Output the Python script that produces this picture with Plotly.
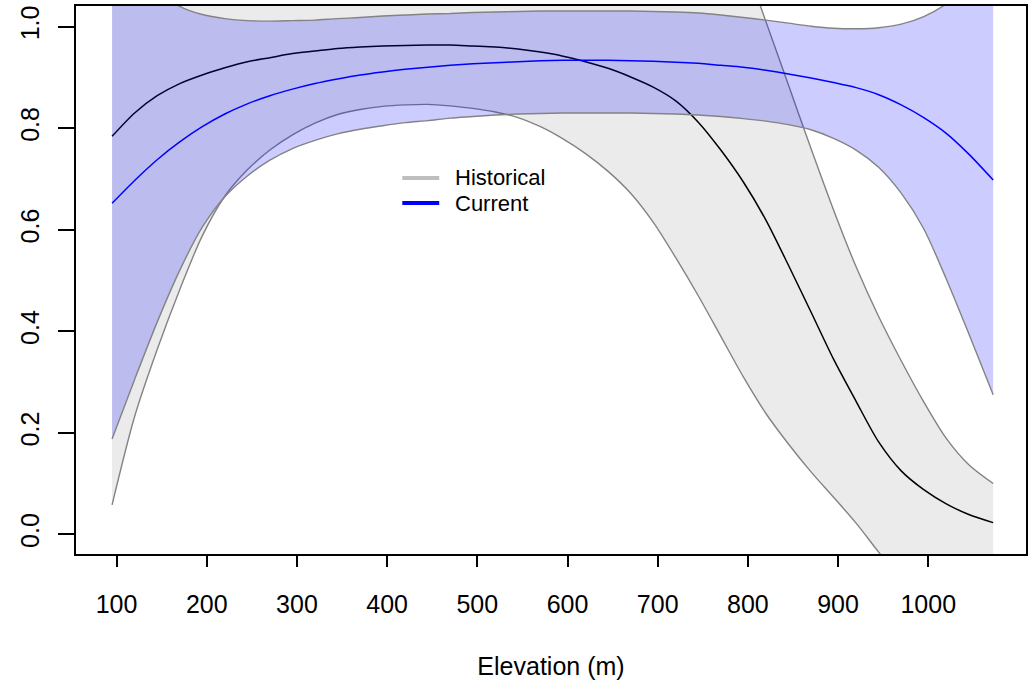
import plotly.graph_objects as go

# ---- data ----
elevation = [95, 120, 145, 170, 195, 220, 245, 270, 295, 320, 345, 370, 395, 420, 445, 470,
             495, 520, 545, 570, 595, 620, 645, 670, 695, 720, 745, 770, 795, 820, 845, 870,
             895, 920, 945, 970, 995, 1020, 1045, 1072]

hist_mean = [0.784, 0.830, 0.864, 0.888, 0.905, 0.919, 0.931, 0.939, 0.947, 0.952, 0.957, 0.960,
             0.962, 0.963, 0.964, 0.964, 0.962, 0.960, 0.956, 0.950, 0.942, 0.931, 0.918, 0.901,
             0.881, 0.854, 0.812, 0.757, 0.694, 0.619, 0.530, 0.438, 0.345, 0.262, 0.182, 0.125,
             0.088, 0.060, 0.039, 0.023]
hist_lower = [0.058, 0.232, 0.364, 0.482, 0.588, 0.666, 0.718, 0.757, 0.787, 0.810, 0.827, 0.837,
              0.843, 0.846, 0.847, 0.844, 0.839, 0.832, 0.821, 0.803, 0.779, 0.750, 0.715, 0.672,
              0.615, 0.545, 0.470, 0.390, 0.310, 0.238, 0.178, 0.123, 0.073, 0.022, -0.035, -0.090,
              -0.145, -0.200, -0.250, -0.300]
hist_upper = [1.40, 1.35, 1.31, 1.28, 1.26, 1.25, 1.25, 1.26, 1.28, 1.30, 1.32, 1.34,
              1.35, 1.37, 1.38, 1.39, 1.40, 1.41, 1.42, 1.43, 1.44, 1.45, 1.46, 1.46,
              1.45, 1.41, 1.34, 1.25, 1.135, 1.010, 0.885, 0.760, 0.639, 0.527, 0.429, 0.342,
              0.261, 0.189, 0.137, 0.100]

curr_mean = [0.652, 0.697, 0.738, 0.773, 0.803, 0.828, 0.848, 0.864, 0.877, 0.888, 0.897, 0.905,
             0.911, 0.916, 0.920, 0.924, 0.927, 0.929, 0.931, 0.933, 0.934, 0.934, 0.934, 0.933,
             0.932, 0.930, 0.928, 0.924, 0.920, 0.914, 0.907, 0.899, 0.890, 0.880, 0.866, 0.846,
             0.821, 0.790, 0.749, 0.698]
curr_lower = [0.188, 0.305, 0.418, 0.520, 0.605, 0.665, 0.706, 0.737, 0.760, 0.776, 0.789, 0.798,
              0.805, 0.811, 0.815, 0.820, 0.823, 0.826, 0.828, 0.829, 0.830, 0.830, 0.830, 0.830,
              0.829, 0.828, 0.826, 0.823, 0.819, 0.814, 0.807, 0.797, 0.780, 0.757, 0.723, 0.672,
              0.602, 0.503, 0.395, 0.275]
curr_upper = [1.22, 1.13, 1.072, 1.040, 1.024, 1.016, 1.012, 1.011, 1.012, 1.013, 1.016, 1.018,
              1.021, 1.023, 1.025, 1.026, 1.028, 1.029, 1.030, 1.031, 1.031, 1.031, 1.031, 1.031,
              1.030, 1.029, 1.027, 1.023, 1.018, 1.013, 1.007, 1.001, 0.997, 0.996, 0.998, 1.005,
              1.020, 1.045, 1.085, 1.140]

x_ticks = [100, 200, 300, 400, 500, 600, 700, 800, 900, 1000]
y_ticks = [0.0, 0.2, 0.4, 0.6, 0.8, 1.0]
y_tick_labels = ["0.0", "0.2", "0.4", "0.6", "0.8", "1.0"]
legend_labels = ["Historical", "Current"]
legend_colors = ["#bebebe", "#0000ff"]
x_title = "Elevation (m)"

FONT = "Liberation Sans, Arial, Helvetica, sans-serif"
EDGE = "#838383"
HIST_FILL = "rgba(190,190,190,0.3)"
CURR_FILL = "rgba(0,0,255,0.2)"

fig = go.Figure()

def band_edge(y, fill=None, fillcolor=None):
    return go.Scatter(x=elevation, y=y, mode="lines", fill=fill, fillcolor=fillcolor,
                      line=dict(color=EDGE, width=1.4, shape="spline", smoothing=0.8),
                      showlegend=False, hoverinfo="skip")

# historical band + mean
fig.add_trace(band_edge(hist_upper))
fig.add_trace(band_edge(hist_lower, "tonexty", HIST_FILL))
fig.add_trace(go.Scatter(x=elevation, y=hist_mean, mode="lines", name=legend_labels[0], showlegend=False,
                         line=dict(color="black", width=1.5, shape="spline", smoothing=0.8)))
# current band + mean
fig.add_trace(band_edge(curr_upper))
fig.add_trace(band_edge(curr_lower, "tonexty", CURR_FILL))
fig.add_trace(go.Scatter(x=elevation, y=curr_mean, mode="lines", name=legend_labels[1], showlegend=False,
                         line=dict(color="#0000ff", width=1.5, shape="spline", smoothing=0.8)))

# manual legend (R style, no box)
L, R_, T, B = 76, 1028, 6, 554
W, H = R_ - L, B - T
def px(xp):
    return (xp - L) / W
def py(yp):
    return (B - yp) / H

leg_rows = [178.0, 203.0]
shapes = []
annotations = []
for yp, col, lab in zip(leg_rows, legend_colors, legend_labels):
    shapes.append(dict(type="line", xref="paper", yref="paper", x0=px(403), x1=px(440), y0=py(yp), y1=py(yp),
                       line=dict(color=col, width=4)))
    annotations.append(dict(xref="paper", yref="paper", x=px(455), y=py(yp), text=lab, showarrow=False,
                            xanchor="left", yanchor="middle", borderpad=0,
                            font=dict(family=FONT, size=22, color="black")))

fig.update_layout(
    width=1030, height=684, autosize=False,
    margin=dict(l=L, r=1030 - R_, t=T, b=684 - B, pad=0),
    paper_bgcolor="white", plot_bgcolor="white",
    font=dict(family=FONT, size=25, color="black"),
    shapes=shapes, annotations=annotations,
    showlegend=False,
    xaxis=dict(range=[55.0, 1108.4], tickvals=x_ticks, ticks="outside", ticklen=11, tickwidth=1.5,
               tickcolor="black", showline=True, linecolor="black", linewidth=2, mirror=True,
               showgrid=False, zeroline=False, tickfont=dict(family=FONT, size=25, color="black"),
               ticklabelstandoff=16,
               title=dict(text=x_title, font=dict(family=FONT, size=25, color="black"), standoff=40)),
    yaxis=dict(range=[-0.0388, 1.0408], tickvals=y_ticks, ticktext=y_tick_labels, ticks="outside", ticklen=16,
               tickwidth=1.5, tickcolor="black", showline=True, linecolor="black", linewidth=2, mirror=True,
               showgrid=False, zeroline=False, tickangle=-90, ticklabelstandoff=9,
               tickfont=dict(family=FONT, size=25, color="black")),
)

fig.write_html("out.html")
